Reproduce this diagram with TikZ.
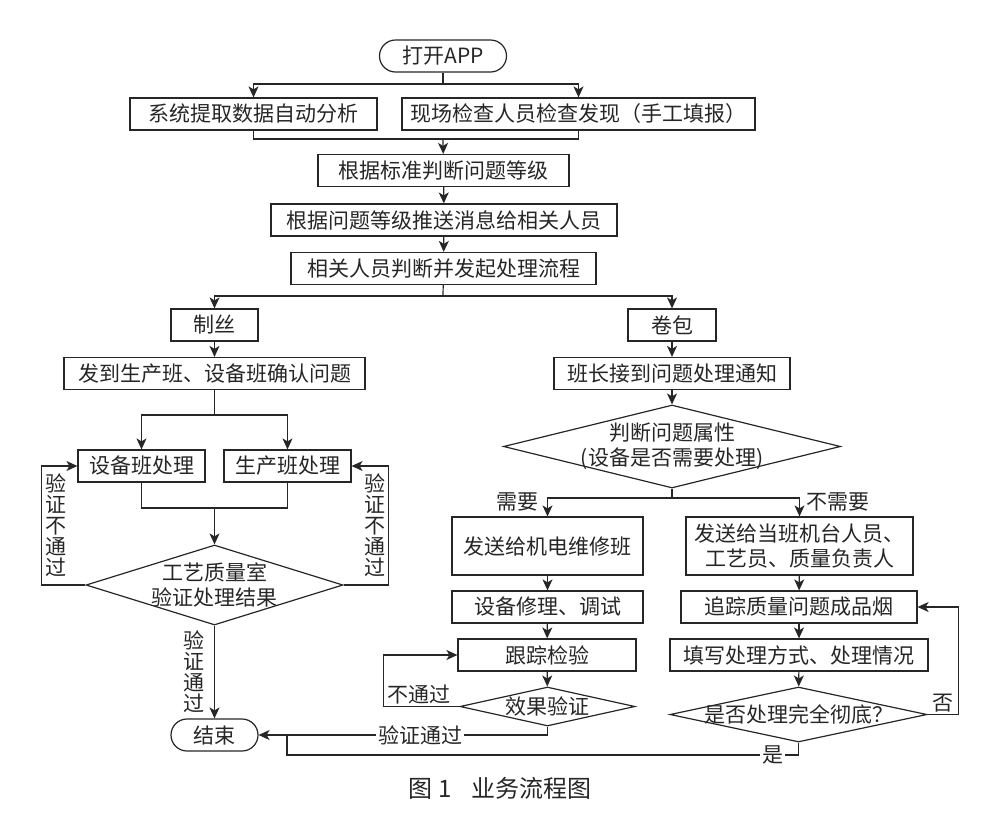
\documentclass[tikz,border=0pt]{standalone}
\usepackage{fontspec}
\setmainfont{Noto Sans CJK SC}
\usetikzlibrary{shapes.geometric,arrows.meta}
\begin{document}
\begin{tikzpicture}[x=1pt,y=-1pt,black!85,line width=1.2pt,
    >={Stealth[length=11pt,width=10pt,inset=3pt]},
    every node/.style={font=\fontsize{21}{25}\selectfont},
    box/.style={draw,rectangle,inner sep=0pt,minimum height=32pt},
    term/.style={box,rounded corners=16pt},
    choice/.style={draw,diamond,inner sep=0pt},
    lbl/.style={inner sep=2pt},
    vlbl/.style={align=center,inner sep=3pt,font=\fontsize{21}{21}\selectfont}]
  \useasboundingbox (0,0) rectangle (1000,828);
  \draw
    (443,56) node[term,minimum width=127pt] (0){打开APP}
    (253.5,114) node[box,minimum width=247pt] (1){系统提取数据自动分析}
    (578.5,114) node[box,minimum width=353pt] (2){现场检查人员检查发现（手工填报）}
    (443.5,170.5) node[box,minimum width=251pt] (3){根据标准判断问题等级}
    (444,220) node[box,minimum width=346pt] (4){根据问题等级推送消息给相关人员}
    (443.5,268.5) node[box,minimum width=305pt] (5){相关人员判断并发起处理流程}
    (214.5,325) node[box,minimum width=87pt] (6){制丝}
    (672,325) node[box,minimum width=88pt] (7){卷包}
    (214.5,373.5) node[box,minimum width=301pt] (8){发到生产班、设备班确认问题}
    (672,373.5) node[box,minimum width=236pt] (9){班长接到问题处理通知}
    (141.5,466) node[box,minimum width=127pt] (10){设备班处理}
    (287.5,466) node[box,minimum width=127pt] (11){生产班处理}
    (214.5,585) node[choice,minimum width=257pt,minimum height=80pt,
      label={[align=center]center:{工艺质量室\\验证处理结果}}] (12){}
    (214.5,735) node[term,minimum width=87pt] (13){结束}
    (672,446.5) node[choice,minimum width=337pt,minimum height=83pt,
      label={[align=center]center:{判断问题属性\\(设备是否需要处理)}}] (14){}
    (547.5,546) node[box,minimum width=191pt,minimum height=58pt] (15){发送给机电维修班}
    (799.5,546) node[box,minimum width=227pt,minimum height=58pt,align=center] (16){发送给当班机台人员、\\工艺员、质量负责人}
    (547.5,607) node[box,minimum width=191pt] (17){设备修理、调试}
    (799,607) node[box,minimum width=236pt] (18){追踪质量问题成品烟}
    (547,655) node[box,minimum width=178pt] (19){跟踪检验}
    (799,655) node[box,minimum width=258pt] (20){填写处理方式、处理情况}
    (547.5,706.5) node[choice,minimum width=175pt,minimum height=39pt,
      label={center:效果验证}] (21){}
    (798.5,714.5) node[choice,minimum width=257pt,minimum height=55pt,
      label={center:是否处理完全彻底？}] (22){}
    (500,788) node[font=\fontsize{24}{28}\selectfont] (cap){图 1\hspace{20pt}业务流程图};
  \coordinate (j0) at (443,84);
  \coordinate (j1) at (443,139);
  \coordinate (j2) at (443,296);
  \coordinate (j3) at (214.5,415);
  \coordinate (j4) at (214.5,508);
  \coordinate (j5) at (672,498);
  \coordinate (j6) at (287,755);
  \begin{scope}[->]
    \draw[-] (0) -- (j0);
    \draw (j0) -| (1);
    \draw (j0) -| (2);
    \draw[-] (1) |- (j1);
    \draw[-] (2) |- (j1);
    \draw (j1) -- (3);
    \draw (3) -- (4);
    \draw (4) -- (5);
    \draw[-] (5) -- (j2);
    \draw (j2) -| (6);
    \draw (j2) -| (7);
    \draw (6) -- (8);
    \draw (7) -- (9);
    \draw[-] (8) -- (j3);
    \draw (j3) -| (10);
    \draw (j3) -| (11);
    \draw[-] (10) |- (j4);
    \draw[-] (11) |- (j4);
    \draw (j4) -- (12);
    \draw (12.west) -- ++(-44,0) |- node[vlbl,pos=.25,right] {验\\证\\不\\通\\过} (10);
    \draw (12.east) -- ++(45,0) |- node[vlbl,pos=.25,left] {验\\证\\不\\通\\过} (11);
    \draw (12) -- node[vlbl,left=6pt] {验\\证\\通\\过} (13);
    \draw (9) -- (14);
    \draw[-] (14) -- (j5);
    \draw (j5) -| node[lbl,pos=.5,left=6pt,yshift=-4pt] {需要} (15);
    \draw (j5) -| node[lbl,pos=.5,right=4pt,yshift=-4pt] {不需要} (16);
    \draw (15) -- (17);
    \draw (17) -- (19);
    \draw (19) -- (21);
    \draw (16) -- (18);
    \draw (18) -- (20);
    \draw (20) -- (22);
    \draw (21.west) -- node[lbl,pos=.53,above] {不通过} ++(-76,0) |- (19);
    \draw (21) |- node[lbl,pos=.72,fill=white] {验证通过} (13);
    \draw[-] (22) |- node[lbl,pos=.525,fill=white] {是} (j6) -- (j6 |- 13);
    \draw (22.east) -- node[lbl,pos=.5,above] {否} ++(31,0) |- (18);
  \end{scope}
\end{tikzpicture}
\end{document}
